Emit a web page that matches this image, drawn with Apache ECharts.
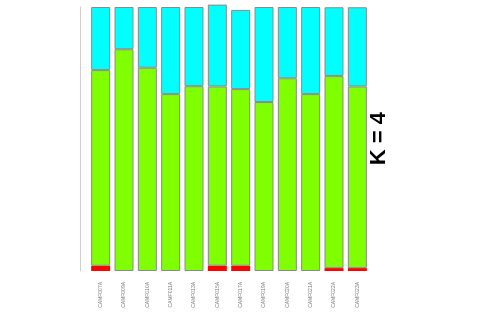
<!DOCTYPE html>
<html>
<head>
<meta charset="utf-8">
<script src="https://cdn.jsdelivr.net/npm/echarts@6/dist/echarts.min.js"></script>
<style>html,body{margin:0;padding:0;background:#fff}#c{width:480px;height:320px}</style>
</head>
<body>
<div id="c"></div>
<script>
var categories = ["CAMF007A","CAMF009A","CAMF010A","CAMF011A","CAMF013A","CAMF015A","CAMF017A","CAMF019A","CAMF020A","CAMF021A","CAMF022A","CAMF023A"];
var redVals   = [0.02, 0, 0, 0, 0, 0.02, 0.02, 0, 0, 0, 0.011, 0.011];
var greenVals = [0.741, 0.84, 0.77, 0.67, 0.70, 0.679, 0.669, 0.64, 0.73, 0.67, 0.728, 0.688];
var cyanVals  = [0.239, 0.16, 0.23, 0.33, 0.30, 0.31, 0.30, 0.36, 0.27, 0.33, 0.26, 0.30];
var titleText = "K = 4";

var chart = echarts.init(document.getElementById('c'), null, {renderer:'canvas'});
function ser(name, data, color, bw){
  return {name:name, type:'bar', stack:'s', data:data, barWidth:19, clip:false,
    itemStyle:{color:color, borderColor:'#8a8a8a', borderWidth:bw}, animation:false};
}
chart.setOption({
  animation:false,
  grid:{left:89, width:280, top:7, bottom:49},
  xAxis:{type:'category', data:categories,
    axisLine:{show:false}, axisTick:{show:false},
    axisLabel:{rotate:90, fontSize:5, color:'#777', margin:11, interval:0, fontFamily:'Liberation Sans'}},
  yAxis:{type:'value', min:0, max:1, offset:9,
    axisLine:{show:true, lineStyle:{color:'#cfcfcf', width:1}},
    axisTick:{show:false}, axisLabel:{show:false}, splitLine:{show:false}},
  series:[ser('r', redVals, '#ff0000', 0), ser('g', greenVals, '#80ff00', 1), ser('c', cyanVals, '#00ffff', 1)],
  graphic:[{type:'text', left:368, top:112, rotation:Math.PI/2,
    style:{text:titleText, font:'bold 22px "Liberation Sans"', fill:'#000'}}]
});
</script>
</body>
</html>
